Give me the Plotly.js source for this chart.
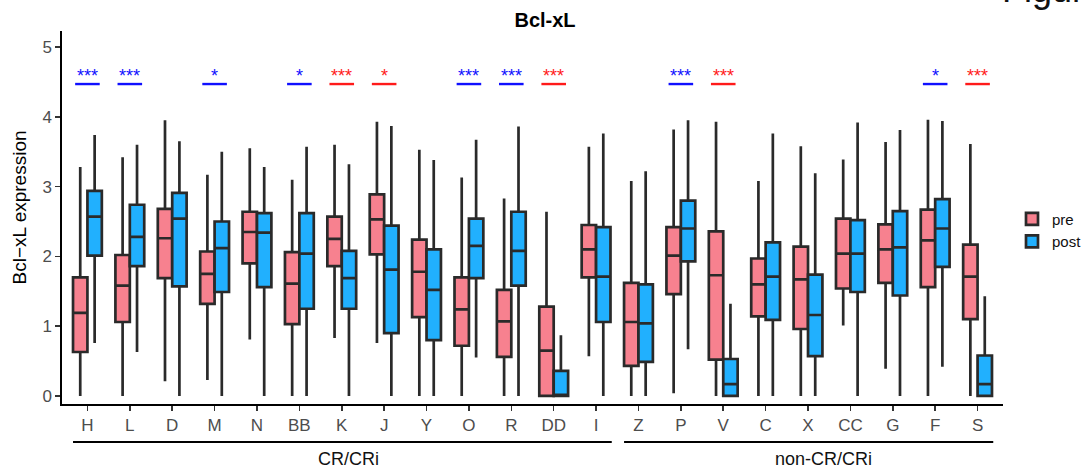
<!DOCTYPE html>
<html><head><meta charset="utf-8">
<script src="https://cdn.plot.ly/plotly-3.0.1.min.js"></script>
<style>html,body{margin:0;padding:0;background:#fff}#chart{width:1084px;height:468px}</style>
</head><body><div id="chart"></div>
<script>
// ---- data ----
const categories = ["H","L","D","M","N","BB","K","J","Y","O","R","DD","I","Z","P","V","C","X","CC","G","F","S"];

const preLowerFence = [0,0,0.21,0.23,0.81,0,0.83,0.76,0,0,0,0,0.57,0,0.04,0,0,0,1.01,0.39,0,0];
const preQ1         = [0.63,1.06,1.69,1.32,1.90,1.03,1.86,2.03,1.13,0.72,0.56,0,1.70,0.43,1.46,0.52,1.14,0.96,1.54,1.62,1.56,1.10];
const preMedian     = [1.19,1.58,2.26,1.75,2.35,1.61,2.25,2.53,1.78,1.24,1.07,0.65,2.10,1.06,2.01,1.73,1.60,1.67,2.04,2.10,2.23,1.71];
const preQ3         = [1.70,2.02,2.68,2.07,2.64,2.06,2.57,2.89,2.24,1.70,1.52,1.28,2.45,1.62,2.42,2.36,1.97,2.14,2.54,2.46,2.67,2.17];
const preUpperFence = [3.28,3.42,3.95,3.17,3.55,3.10,3.60,3.93,3.53,3.13,2.83,2.64,3.57,3.08,3.82,3.93,3.08,3.58,3.39,3.64,3.96,3.61];

const postLowerFence = [0.76,0.63,0,0,0,0,0,0,0,0.55,0,0,0,0,0.67,0,0,0,0,0,0.42,0];
const postQ1         = [2.01,1.86,1.57,1.49,1.56,1.25,1.25,0.90,0.80,1.69,1.58,0,1.06,0.49,1.93,0,1.09,0.57,1.49,1.44,1.85,0];
const postMedian     = [2.57,2.28,2.54,2.12,2.34,2.04,1.69,1.81,1.52,2.15,2.08,0.01,1.71,1.04,2.40,0.17,1.71,1.16,2.04,2.13,2.40,0.17];
const postQ3         = [2.94,2.74,2.91,2.50,2.62,2.62,2.08,2.44,2.10,2.54,2.64,0.36,2.42,1.60,2.80,0.53,2.20,1.74,2.52,2.65,2.82,0.58];
const postUpperFence = [3.74,3.60,3.65,3.50,3.28,3.57,3.32,3.87,3.38,3.67,3.86,0.87,3.76,3.22,3.95,1.32,3.76,3.19,3.92,3.81,3.94,1.43];

const sigCats   = ["H","L","M","BB","K","J","O","R","DD","P","V","F","S"];
const sigLabels = ["***","***","*","*","***","*","***","***","***","***","***","*","***"];
const sigDir    = ["up","up","up","up","down","down","up","up","down","up","down","up","down"];

const groupNames = ["CR/CRi","non-CR/CRi"];
const groupFirst = ["H","Z"];
const groupLast  = ["I","S"];

const titleText = "Bcl-xL";
const yTitle = "Bcl\u2212xL expression";
const cornerText = "Figure";

// ---- style ----
const FONT = "Liberation Sans, Arial, Helvetica, sans-serif";
const PRE_FILL = "#F7818F", POST_FILL = "#21B0FE";
const EDGE = "#2a2a2a";
const dirColor = {up: "#1010FF", down: "#FF1A1A"};

const boxStyle = {type: "box", whiskerwidth: 0, boxpoints: false, hoverinfo: "skip",
                  line: {color: EDGE, width: 2.7}};

const traces = [
  Object.assign({}, boxStyle, {name: "pre", x: categories, q1: preQ1, median: preMedian, q3: preQ3,
      lowerfence: preLowerFence, upperfence: preUpperFence, fillcolor: PRE_FILL}),
  Object.assign({}, boxStyle, {name: "post", x: categories, q1: postQ1, median: postMedian, q3: postQ3,
      lowerfence: postLowerFence, upperfence: postUpperFence, fillcolor: POST_FILL})
];

const shapes = [];
const annotations = [];
sigCats.forEach((c, k) => {
  const i = categories.indexOf(c);
  const col = dirColor[sigDir[k]];
  shapes.push({type: "line", xref: "x", yref: "y", x0: i - 0.29, x1: i + 0.29, y0: 4.47, y1: 4.47,
               line: {color: col, width: 2.4}});
  annotations.push({xref: "x", yref: "y", x: i, y: 4.59, text: sigLabels[k], showarrow: false,
               yanchor: "middle", font: {family: FONT, size: 18, color: col}});
});
const groupTextX = [6.15, 17.36];
groupNames.forEach((g, k) => {
  const a = categories.indexOf(groupFirst[k]), b = categories.indexOf(groupLast[k]);
  shapes.push({type: "line", xref: "x", yref: "paper", x0: a - 0.34, x1: b + 0.37, y0: -0.102, y1: -0.102,
               line: {color: "#000", width: 2}});
  annotations.push({xref: "x", yref: "paper", x: groupTextX[k], y: -0.148, text: g, showarrow: false,
               yanchor: "middle", font: {family: FONT, size: 18, color: "#111"}});
});
// y-axis title
annotations.push({xref: "paper", yref: "paper", x: (18.5 - 62) / 941, y: (404 - 208) / 373, xanchor: "center",
                  yanchor: "middle", textangle: -90, text: yTitle, showarrow: false,
                  font: {family: FONT, size: 19, color: "#000"}});
// corner text (cut off at the top edge as in the reference)
annotations.push({xref: "paper", yref: "paper", x: (1000 - 62) / 941, y: 1.052, xanchor: "left", yanchor: "bottom",
                  text: cornerText, showarrow: false, font: {family: FONT, size: 36, color: "#111"}});

const layout = {
  width: 1084, height: 468,
  margin: {l: 62, r: 81, t: 31, b: 64},
  paper_bgcolor: "#fff", plot_bgcolor: "#fff",
  font: {family: FONT},
  boxmode: "group", boxgap: 0.32, boxgroupgap: 0,
  title: {text: "<b>" + titleText + "</b>", font: {family: FONT, size: 20, color: "#000"},
          x: 545 / 1084, xref: "container", xanchor: "center", y: 1 - 20 / 468, yref: "container", yanchor: "middle"},
  xaxis: {type: "category", categoryorder: "array", categoryarray: categories, range: [-0.6, 21.6],
          showline: true, linecolor: "#000", linewidth: 1.6, ticks: "outside", ticklen: 5, tickwidth: 1.5,
          tickcolor: "#333", showgrid: false, zeroline: false, tickfont: {size: 17, color: "#4D4D4D"}},
  yaxis: {range: [-0.115, 5.23], tickvals: [0,1,2,3,4,5], showline: true, linecolor: "#000", linewidth: 1.6,
          ticks: "outside", ticklen: 5, tickwidth: 1.5, tickcolor: "#333", showgrid: false, zeroline: false,
          tickfont: {size: 17, color: "#4D4D4D"}},
  legend: {xref: "container", yref: "container", x: 1012 / 1084, xanchor: "left", y: 1 - 202.6 / 468, yanchor: "top",
           font: {size: 15, color: "#111"}, bgcolor: "rgba(0,0,0,0)", tracegroupgap: 0},
  shapes: shapes, annotations: annotations
};

Plotly.newPlot("chart", traces, layout, {staticPlot: true, displayModeBar: false});
</script></body></html>
